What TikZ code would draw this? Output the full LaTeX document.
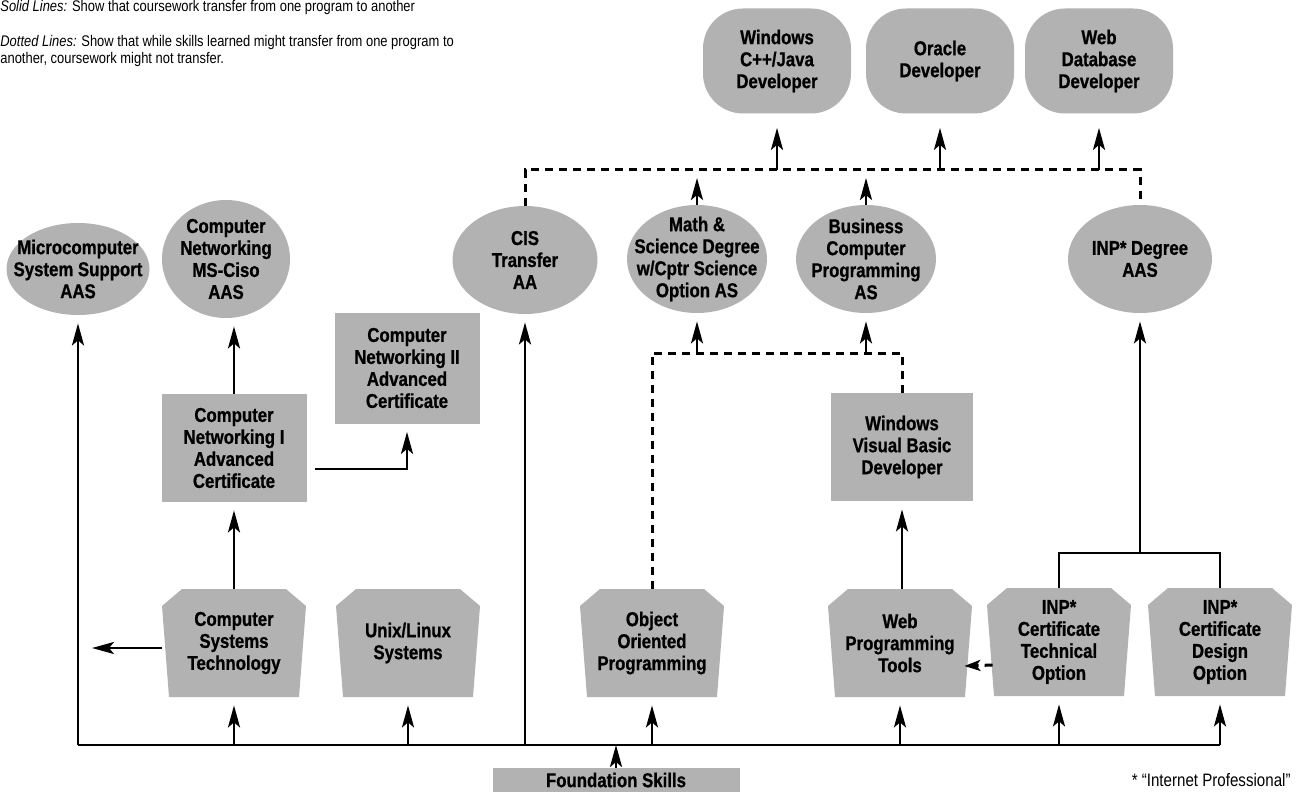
\documentclass[tikz,border=0pt]{standalone}
\usepackage{fontspec}
\setmainfont{Liberation Sans}[FakeStretch=0.84,BoldFeatures={FakeBold=0.8}]
\usetikzlibrary{shapes.geometric,arrows.meta,calc}
\definecolor{dotGray}{gray}{0.70}
\newcommand{\nodeFont}{\bfseries\fontsize{10}{11}\selectfont}
\newcommand{\noteFont}{\fontsize{7.7}{8.5}\selectfont}
\tikzset{
myTop/.style={
	rectangle, rounded corners=20pt, fill=dotGray,
	minimum width=74pt, minimum height=52.5pt,
	inner sep=0pt, align=center, font=\nodeFont
}
, myOval/.style={
	ellipse, fill=dotGray,
	inner xsep=-20pt, inner ysep=-15pt,
	align=center, font=\nodeFont
}
, myBox/.style={
	rectangle, fill=dotGray,
	minimum width=72.5pt, minimum height=54pt,
	inner sep=0pt, align=center, font=\nodeFont
}
, myTape/.style={
	rectangle, fill=white,
	minimum width=72pt, minimum height=54pt,
	inner sep=0pt, align=center, font=\nodeFont,
	path picture = {
		\fill[dotGray]
		([xshift=10pt]path picture bounding box.north west) -- ([xshift=-10pt]path picture bounding box.north east)
		-- ([yshift=-8.5pt]path picture bounding box.north east) -- ([xshift=-3.5pt]path picture bounding box.south east)
		-- ([xshift=3.5pt]path picture bounding box.south west) -- ([yshift=-8.5pt]path picture bounding box.north west) -- cycle;
	}
}
, myNote/.style={inner sep=0pt, font=\noteFont}
% links
, myLine/.style={line width=1.3pt}
, myArrow/.style={-{Stealth[length=11pt,width=6pt,inset=2.5pt]},line width=1.3pt,shorten >=4pt}
, myDash/.style={line width=1.5pt,dash pattern=on 4pt off 3pt}
}
\begin{document}
\begin{tikzpicture}[x=0.5pt,y=-0.5pt]
	\useasboundingbox (0,0) rectangle (1296,792);
	% legend
	\node[myNote, anchor=west] (legSolid) at (0,8) {\textit{Solid Lines:} Show that coursework transfer from one program to another};
	\node[myNote, anchor=north west, align=left] (legDotted) at (0,35) {\textit{Dotted Lines:} Show that while skills learned might transfer from one program to\\another, coursework might not transfer.};
	% developer jobs
	\node[myTop] (winDev) at (777,61) {Windows\\C++/Java\\Developer};
	\node[myTop] (oraDev) at (940,61) {Oracle\\Developer};
	\node[myTop] (webDev) at (1099,61) {Web\\Database\\Developer};
	% degrees
	\node[myOval, minimum width=71.5pt, minimum height=46pt] (microAAS) at (78,269) {Microcomputer\\System Support\\AAS};
	\node[myOval, minimum width=64pt, minimum height=59pt] (ciscoAAS) at (226,259) {Computer\\Networking\\MS-Ciso\\AAS};
	\node[myOval, minimum width=72.5pt, minimum height=54pt] (cisAA) at (525,260) {CIS\\Transfer\\AA};
	\node[myOval, minimum width=70pt, minimum height=54pt] (mathAS) at (697,259) {Math \&\\Science Degree\\w/Cptr Science\\Option AS};
	\node[myOval, minimum width=70pt, minimum height=54pt] (busAS) at (866,259) {Business\\Computer\\Programming\\AS};
	\node[myOval, minimum width=72pt, minimum height=54pt] (inpAAS) at (1140,259) {INP* Degree\\AAS};
	% certificates
	\node[myBox] (netI) at (234,448) {Computer\\Networking I\\Advanced\\Certificate};
	\node[myBox, minimum height=55.5pt] (netII) at (407,368) {Computer\\Networking II\\Advanced\\Certificate};
	\node[myBox, minimum width=71pt] (vbDev) at (902,447) {Windows\\Visual Basic\\Developer};
	% courses
	\node[myTape] (cst) at (234,643) {Computer\\Systems\\Technology};
	\node[myTape] (unix) at (408,643) {Unix/Linux\\Systems};
	\node[myTape] (oop) at (652,643) {Object\\Oriented\\Programming};
	\node[myTape] (webTools) at (900,643) {Web\\Programming\\Tools};
	\node[myTape] (inpTech) at (1059,642) {INP*\\Certificate\\Technical\\Option};
	\node[myTape] (inpDesign) at (1220,642) {INP*\\Certificate\\Design\\Option};
	\node[myBox, minimum width=123.5pt, minimum height=12pt] (found) at (616,780) {Foundation Skills};
	\node[myNote, anchor=east, font=\fontsize{9}{10}\selectfont] (inpNote) at (1291,780) {* ``Internet Professional''};
	% bus levels
	\coordinate (topBus) at (0,170);
	\coordinate (midBus) at (0,353);
	\coordinate (inpBus) at (0,553);
	\coordinate (footBus) at (0,745);
	\coordinate (cstOut) at (92,648);

	% solid links
	\draw[myLine] (microAAS.south |- footBus) -- (inpDesign.south |- footBus);
	\draw[myArrow] (microAAS.south |- footBus) -- (microAAS.south);
	\draw[myArrow] (cst.south |- footBus) -- (cst.south);
	\draw[myArrow] (unix.south |- footBus) -- (unix.south);
	\draw[myArrow] (cisAA.south |- footBus) -- (cisAA.south);
	\draw[myArrow] (oop.south |- footBus) -- (oop.south);
	\draw[myArrow] (webTools.south |- footBus) -- (webTools.south);
	\draw[myArrow] (inpTech.south |- footBus) -- (inpTech.south);
	\draw[myArrow] (inpDesign.south |- footBus) -- (inpDesign.south);
	\draw[myArrow, shorten >=0pt] (found.north) -- (found.north |- footBus);
	\draw[myArrow, shorten >=0pt] (cstOut -| cst.west) -- (cstOut);
	\draw[myArrow] (cst.north) -- (netI.south);
	\draw[myArrow] (netI.north) -- (netI.north |- ciscoAAS.south);
	\draw[myArrow] ([shift={(4pt,-10.5pt)}]netI.east) -| (netII.south);
	\draw[myArrow] (vbDev.south |- webTools.north) -- (vbDev.south);
	\draw[myLine] (inpTech.north) |- (inpDesign.north |- inpBus) -- (inpDesign.north);
	\draw[myArrow] (inpAAS.south |- inpBus) -- (inpAAS.south);

	% dotted links
	\draw[myDash] (oop.north) -- (oop.north |- midBus) -- (vbDev.north |- midBus) -- (vbDev.north);
	\draw[myArrow] (mathAS.south |- midBus) -- (mathAS.south);
	\draw[myArrow] (busAS.south |- midBus) -- (busAS.south);
	\draw[myDash] (cisAA.north) -- (cisAA.north |- topBus) -- (inpAAS.north |- topBus) -- (inpAAS.north);
	\draw[myArrow] (mathAS.north) -- (mathAS.north |- topBus);
	\draw[myArrow] (busAS.north) -- (busAS.north |- topBus);
	\draw[myArrow, shorten >=7pt] (winDev.south |- topBus) -- (winDev.south);
	\draw[myArrow, shorten >=7pt] (oraDev.south |- topBus) -- (oraDev.south);
	\draw[myArrow, shorten >=7pt] (webDev.south |- topBus) -- (webDev.south);
	\draw[myArrow, myDash, -{Stealth[length=8pt,width=5.5pt,inset=2pt]}, shorten >=0pt] ([shift={(3pt,-11.5pt)}]inpTech.west) -- ([shift={(-4pt,-11.5pt)}]webTools.east);
\end{tikzpicture}
\end{document}
